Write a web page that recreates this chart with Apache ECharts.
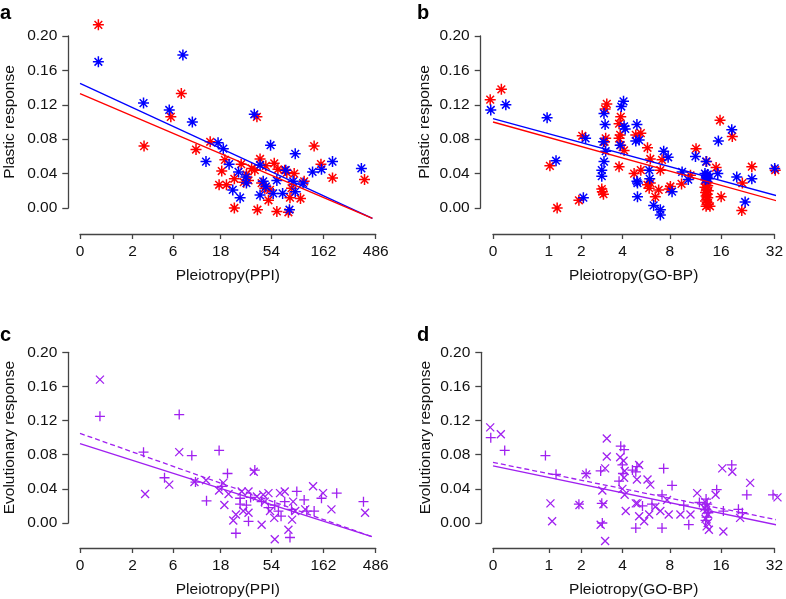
<!DOCTYPE html>
<html>
<head>
<meta charset="utf-8">
<script src="https://cdn.jsdelivr.net/npm/echarts@6/dist/echarts.min.js"></script>
<style>html,body{margin:0;padding:0;background:#fff}#c{width:786px;height:599px}</style>
</head>
<body>
<div id="c"></div>
<script>
// ---- tick labels ----
const PPI_TICKS = [0, 2, 6, 18, 54, 162, 486];
const GO_TICKS = [0, 1, 2, 4, 8, 16, 32];
const Y_LABELS_MAX = 0.2;
const ppiPos = v => Math.log(v + 1) / Math.log(3);   // axis scale for PPI
const goPos = v => Math.log2(v + 1);                  // axis scale for GO-BP

// ---- data: [log-scaled pleiotropy, response] ----
// panel a (PPI, plastic response)
const aRed = [[0.35,0.213],[1.22,0.072],[1.73,0.106],[1.93,0.133],[2.21,0.068],[2.48,0.077],[2.65,0.027],[2.70,0.043],[2.76,0.056],[2.79,0.027],[2.94,0.000],[2.94,0.034],[3.07,0.051],[3.17,0.039],[3.21,0.032],[3.27,0.046],[3.37,0.106],[3.38,-0.002],[3.43,0.057],[3.33,0.044],[3.54,0.049],[3.46,0.029],[3.52,0.023],[3.59,0.009],[3.70,0.052],[3.75,-0.004],[3.77,0.045],[3.90,0.044],[3.94,0.041],[3.97,-0.005],[4.00,0.012],[4.03,0.023],[4.08,0.040],[4.20,0.011],[4.27,0.031],[4.46,0.072],[4.59,0.051],[4.81,0.035],[5.42,0.033],[3.62,0.021],[3.12,0.030]];
const aBlue = [[0.35,0.170],[1.96,0.178],[1.21,0.122],[1.70,0.114],[2.14,0.100],[2.40,0.054],[2.63,0.076],[2.73,0.069],[2.84,0.051],[2.91,0.021],[3.05,0.012],[3.02,0.042],[3.17,0.029],[3.16,0.036],[3.32,0.109],[3.43,0.015],[3.49,0.031],[3.43,0.050],[3.63,0.073],[3.68,0.017],[3.75,0.032],[3.86,0.017],[3.92,0.044],[3.99,-0.002],[4.10,0.063],[4.06,0.031],[4.10,0.019],[4.25,0.029],[4.43,0.042],[4.60,0.045],[4.81,0.054],[5.36,0.046],[3.54,0.025]];
const aRedFit = [[0, 0.133], [5.57, -0.012]];
const aBlueFit = [[0, 0.145], [5.57, -0.012]];

// panel b (GO-BP, plastic response)
const bRed = [[-0.05,0.126],[0.15,0.138],[1.02,0.049],[1.15,0.000],[1.54,0.009],[1.60,0.084],[2.04,0.121],[2.01,0.115],[2.02,0.081],[2.00,0.077],[1.95,0.022],[1.98,0.016],[1.96,0.019],[2.29,0.106],[2.26,0.098],[2.26,0.081],[2.29,0.073],[2.35,0.067],[2.26,0.048],[2.28,0.085],[2.56,0.085],[2.53,0.040],[2.65,0.087],[2.77,0.070],[2.82,0.057],[2.65,0.044],[2.77,0.027],[2.80,0.023],[2.82,0.029],[2.91,0.013],[2.97,0.021],[3.00,0.044],[3.03,0.056],[3.18,0.025],[3.16,0.022],[3.38,0.028],[3.54,0.038],[3.64,0.069],[3.83,0.054],[3.81,0.033],[3.84,0.030],[3.82,0.028],[3.85,0.026],[3.80,0.024],[3.83,0.022],[3.86,0.020],[3.81,0.018],[3.84,0.016],[3.82,0.014],[3.85,0.012],[3.83,0.010],[3.81,0.008],[3.84,0.006],[3.86,0.004],[3.82,0.002],[4.07,0.102],[4.00,0.047],[4.09,0.013],[4.29,0.083],[4.47,0.029],[4.46,-0.003],[4.64,0.048],[5.06,0.044],[3.89,0.002]];
const bBlue = [[-0.04,0.114],[0.23,0.120],[0.97,0.105],[1.13,0.055],[1.62,0.012],[1.66,0.081],[1.99,0.110],[2.01,0.097],[1.98,0.077],[2.02,0.066],[1.99,0.054],[1.95,0.044],[1.95,0.037],[2.34,0.124],[2.30,0.118],[2.35,0.095],[2.37,0.092],[2.28,0.073],[2.58,0.097],[2.58,0.031],[2.59,0.013],[2.56,0.078],[2.62,0.079],[2.59,0.029],[2.81,0.034],[2.80,0.044],[2.88,0.003],[3.00,-0.002],[3.00,-0.008],[3.06,0.066],[3.14,0.059],[3.21,0.019],[3.39,0.042],[3.50,0.033],[3.63,0.060],[3.82,0.054],[3.80,0.040],[3.82,0.038],[3.84,0.036],[3.86,0.034],[3.81,0.033],[3.85,0.039],[3.83,0.035],[4.03,0.040],[4.04,0.078],[4.28,0.091],[4.37,0.036],[4.52,0.007],[4.64,0.034],[5.05,0.046]];
const bRedFit = [[0, 0.100], [5.22, 0.006]];
const bBlueFit = [[0, 0.104], [5.22, 0.012]];

// panel c (PPI, evolutionary response)
const cCross = [[0.38,0.168],[1.24,0.034],[1.70,0.045],[1.89,0.083],[2.18,0.048],[2.65,0.038],[2.75,0.021],[2.73,0.047],[2.83,0.034],[2.92,0.003],[2.97,0.010],[3.08,0.037],[3.11,0.014],[3.21,0.037],[3.31,0.060],[3.37,0.031],[3.46,-0.002],[3.49,0.033],[3.52,0.025],[3.59,0.035],[3.62,0.014],[3.70,0.006],[3.71,-0.019],[3.81,0.035],[3.90,0.037],[3.97,-0.008],[4.04,0.004],[4.06,0.025],[4.10,0.014],[4.29,0.016],[4.44,0.043],[4.63,0.035],[4.79,0.016],[5.43,0.012],[3.21,0.012],[2.40,0.050]];
const cPlus = [[0.38,0.125],[1.21,0.083],[1.61,0.053],[1.89,0.127],[2.13,0.079],[2.41,0.026],[2.65,0.085],[2.81,0.058],[2.70,0.043],[2.97,-0.012],[3.05,0.029],[3.05,0.022],[3.17,0.021],[3.21,0.002],[3.33,0.062],[3.46,0.025],[3.59,0.018],[3.71,0.021],[3.78,0.014],[3.83,0.008],[3.90,0.025],[4.00,-0.017],[4.03,0.016],[4.13,0.037],[4.27,0.027],[4.32,0.014],[4.46,0.014],[4.60,0.029],[4.89,0.035],[5.40,0.025],[2.20,0.048],[3.25,0.030]];
const cSolidFit = [[0, 0.093], [5.56, -0.016]];
const cDashFit = [[0, 0.105], [5.56, -0.016]];

// panel d (GO-BP, evolutionary response)
const dCross = [[-0.05,0.112],[0.14,0.104],[1.03,0.023],[1.06,0.002],[1.55,0.021],[1.67,0.057],[2.04,0.099],[2.04,0.078],[2.01,0.064],[1.96,0.038],[1.98,0.022],[2.01,-0.021],[1.93,-0.002],[2.28,0.077],[2.34,0.073],[2.36,0.061],[2.35,0.053],[2.32,0.040],[2.36,0.033],[2.38,0.014],[2.58,0.051],[2.56,0.023],[2.62,0.068],[2.77,0.051],[2.82,0.045],[2.59,0.023],[2.62,0.008],[2.71,0.002],[2.80,0.010],[2.91,0.019],[3.00,0.014],[3.12,0.027],[3.15,0.010],[3.36,0.010],[3.54,0.010],[3.66,0.035],[3.80,0.025],[3.84,0.020],[3.82,0.015],[3.86,0.010],[3.81,0.005],[3.85,0.000],[3.83,-0.004],[3.87,-0.008],[3.79,0.018],[3.99,0.033],[4.13,-0.010],[4.11,0.064],[4.29,0.060],[4.43,0.006],[4.61,0.047],[5.10,0.030]];
const dPlus = [[-0.04,0.100],[0.21,0.085],[0.94,0.079],[1.13,0.057],[1.54,0.022],[1.67,0.058],[1.93,0.061],[1.95,0.023],[1.96,0.000],[2.29,0.090],[2.35,0.086],[2.32,0.068],[2.26,0.049],[2.33,0.058],[2.58,0.066],[2.56,-0.006],[2.50,0.062],[2.56,0.060],[3.06,0.064],[3.21,0.044],[3.03,0.033],[3.42,0.021],[3.51,-0.002],[3.03,-0.006],[2.68,0.020],[2.85,0.022],[3.82,0.028],[3.84,0.022],[3.80,0.016],[3.86,0.012],[3.83,0.007],[3.81,0.003],[4.01,0.039],[4.13,0.014],[4.28,0.068],[4.40,0.016],[4.55,0.033],[4.47,0.012],[5.02,0.033],[3.70,0.024]];
const dSolidFit = [[0, 0.067], [5.22, -0.004]];
const dDashFit = [[0, 0.071], [5.22, 0.002]];

// ---- styling ----
const FONT = 'Liberation Sans';
const FS = 15.5;
const AX = '#444';
const RED = '#ff0000', BLUE = '#0000ff', PURPLE = '#a020f0';
const ASTER = 'path://M0,5L10,5M5,0L5,10M1.5,1.5L8.5,8.5M8.5,1.5L1.5,8.5';
const PLUS = 'path://M0,5L10,5M5,0L5,10';
const CROSS = 'path://M0,0L10,10M10,0L0,10';

const panels = [
  {grid:{left:80, top:36, width:295.7, height:172}, ticks:PPI_TICKS, fn:ppiPos, xName:'Pleiotropy(PPI)', yName:'Plastic response', xOff:26, yOff:11.7, yGap:51},
  {grid:{left:493, top:36, width:283.3, height:172}, ticks:GO_TICKS, fn:goPos, xName:'Pleiotropy(GO-BP)', yName:'Plastic response', xOff:26, yOff:12.3, yGap:48},
  {grid:{left:80, top:352.3, width:295.7, height:171}, ticks:PPI_TICKS, fn:ppiPos, xName:'Pleiotropy(PPI)', yName:'Evolutionary response', xOff:25, yOff:11.7, yGap:51},
  {grid:{left:493, top:352.3, width:283.3, height:171}, ticks:GO_TICKS, fn:goPos, xName:'Pleiotropy(GO-BP)', yName:'Evolutionary response', xOff:25, yOff:11.7, yGap:48}
];

const txt = {color:'#111', fontSize:FS, fontFamily:FONT};
const grids = [], xAxes = [], yAxes = [];
panels.forEach((p, i) => {
  grids.push(Object.assign({containLabel:false}, p.grid));
  const vals = p.ticks.map(p.fn);
  xAxes.push({
    type:'value', gridIndex:i, min:0, max:vals[vals.length-1], position:'bottom', offset:p.xOff,
    axisLine:{show:true, onZero:false, lineStyle:{color:AX, width:1.3}},
    axisTick:{show:true, length:5, customValues:vals, lineStyle:{color:AX, width:1.3}},
    axisLabel:Object.assign({customValues:vals, margin:10, hideOverlap:false,
      formatter:v => { const k = vals.findIndex(t => Math.abs(t - v) < 1e-6); return k >= 0 ? String(p.ticks[k]) : ''; }}, txt),
    splitLine:{show:false},
    name:p.xName, nameLocation:'middle', nameGap:34, nameTextStyle:txt
  });
  yAxes.push({
    type:'value', gridIndex:i, min:0, max:Y_LABELS_MAX, interval:0.04, position:'left', offset:p.yOff,
    axisLine:{show:true, onZero:false, lineStyle:{color:AX, width:1.3}},
    axisTick:{show:true, length:6, lineStyle:{color:AX, width:1.3}},
    axisLabel:Object.assign({margin:11, formatter:v => v.toFixed(2)}, txt),
    splitLine:{show:false},
    name:p.yName, nameLocation:'middle', nameGap:p.yGap, nameTextStyle:txt
  });
});

function pts(data, idx, color, symbol, size, w) {
  return {type:'scatter', xAxisIndex:idx, yAxisIndex:idx, data, symbol, symbolSize:size, clip:false,
    itemStyle:{color, borderColor:color, borderWidth:w, opacity:1}, silent:true};
}
function fit(data, idx, color, dashed) {
  return {type:'line', xAxisIndex:idx, yAxisIndex:idx, data, symbol:'none', clip:false, silent:true,
    lineStyle:{color, width:1.3, type: dashed ? [5,3] : 'solid'}};
}

const series = [
  pts(aRed, 0, RED, ASTER, 11, 1.5), pts(aBlue, 0, BLUE, ASTER, 11, 1.5),
  fit(aBlueFit, 0, BLUE, false), fit(aRedFit, 0, RED, false),
  pts(bRed, 1, RED, ASTER, 11, 1.5), pts(bBlue, 1, BLUE, ASTER, 11, 1.5),
  fit(bBlueFit, 1, BLUE, false), fit(bRedFit, 1, RED, false),
  pts(cCross, 2, PURPLE, CROSS, 8, 1.3), pts(cPlus, 2, PURPLE, PLUS, 10, 1.3),
  fit(cSolidFit, 2, PURPLE, false), fit(cDashFit, 2, PURPLE, true),
  pts(dCross, 3, PURPLE, CROSS, 8, 1.3), pts(dPlus, 3, PURPLE, PLUS, 10, 1.3),
  fit(dSolidFit, 3, PURPLE, false), fit(dDashFit, 3, PURPLE, true)
];

const letter = (t, l, top) => ({text:t, left:l, top:top, padding:0,
  textStyle:{fontSize:20, fontWeight:'bold', fontFamily:FONT, color:'#000'}});

const chart = echarts.init(document.getElementById('c'), null, {renderer:'canvas'});
chart.setOption({
  animation:false,
  backgroundColor:'#fff',
  title:[letter('a', 0, 3), letter('b', 417, 3), letter('c', 0, 325), letter('d', 417, 325)],
  grid:grids, xAxis:xAxes, yAxis:yAxes, series
});
</script>
</body>
</html>
